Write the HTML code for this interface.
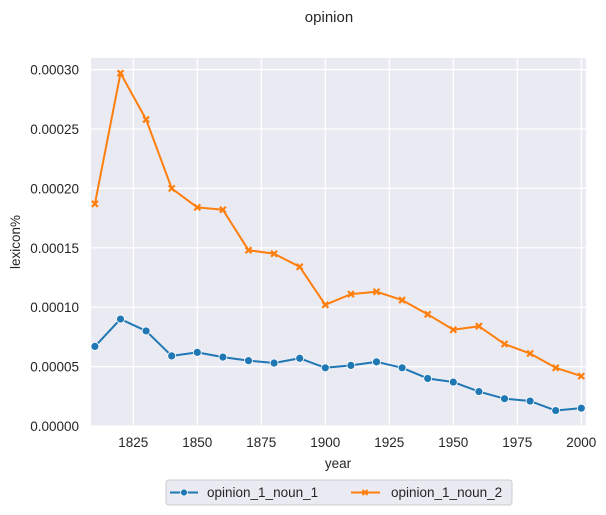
<!DOCTYPE html>
<html><head><meta charset="utf-8"><style>
html,body{margin:0;padding:0;background:#fff;}
svg{display:block;font-family:"Liberation Sans",sans-serif;}
</style></head><body>
<svg id="chart" width="606" height="515" viewBox="0 0 606 515" xmlns="http://www.w3.org/2000/svg">
<text x="329" y="22" text-anchor="middle" font-size="15" fill="#262626">opinion</text>
<rect x="91" y="58" width="495" height="368" fill="#eaeaf2"/>
<g id="grid"></g>
<g id="ticks"></g>
<g id="series"></g>
<text x="338" y="468" text-anchor="middle" font-size="13.5" fill="#262626">year</text>
<text transform="translate(20,242) rotate(-90)" text-anchor="middle" font-size="13.5" fill="#262626">lexicon%</text>
<g>
<rect x="166" y="480" width="346" height="25" rx="3" fill="#eaeaf2" stroke="#cccccc"/>
<g>
<line x1="170" y1="492.5" x2="198" y2="492.5" stroke="#1f77b4" stroke-width="2"/>
<circle cx="184" cy="492.5" r="3.5" fill="#1f77b4" stroke="#fff" stroke-width="0.8"/>
<text x="207" y="497" font-size="13.5" fill="#262626">opinion_1_noun_1</text>
</g>
<g>
<line x1="351" y1="492.5" x2="380" y2="492.5" stroke="#ff7f0e" stroke-width="2"/>
<path d="M362.5,490L367.5,495M362.5,495L367.5,490" stroke="#ff7f0e" stroke-width="2"/>
<text x="391" y="497" font-size="13.5" fill="#262626">opinion_1_noun_2</text>
</g>
</g>
</svg>
<script>
const years = [1810,1820,1830,1840,1850,1860,1870,1880,1890,1900,1910,1920,1930,1940,1950,1960,1970,1980,1990,2000];
const noun1 = [0.000067,0.000090,0.000080,0.000059,0.000062,0.000058,0.000055,0.000053,0.000057,0.000049,0.000051,0.000054,0.000049,0.000040,0.000037,0.000029,0.000023,0.000021,0.000013,0.000015];
const noun2 = [0.000187,0.000297,0.000258,0.000200,0.000184,0.000182,0.000148,0.000145,0.000134,0.000102,0.000111,0.000113,0.000106,0.000094,0.000081,0.000084,0.000069,0.000061,0.000049,0.000042];
const xTicks = [1825,1850,1875,1900,1925,1950,1975,2000];
const yTicks = [0,0.00005,0.0001,0.00015,0.0002,0.00025,0.0003];
const yTickLabels = ["0.00000","0.00005","0.00010","0.00015","0.00020","0.00025","0.00030"];

const NS="http://www.w3.org/2000/svg";
function X(v){return 581.3+(v-2000)*2.56;}
function Y(v){return 426-v*1188000;}
function mk(t,a,p){const e=document.createElementNS(NS,t);for(const k in a)e.setAttribute(k,a[k]);p.appendChild(e);return e;}
const grid=document.getElementById('grid'),ticks=document.getElementById('ticks'),ser=document.getElementById('series');
xTicks.forEach(t=>{
  const l=mk('line',{x1:X(t),x2:X(t),y1:58,y2:426,stroke:'#fff','stroke-width':1.2},grid);
  
  
  const tx=mk('text',{x:X(t),y:447,'text-anchor':'middle','font-size':13.5,fill:'#262626'},ticks);
  tx.textContent=t;
  
  
});
yTicks.forEach((t,i)=>{
  const l=mk('line',{x1:91,x2:586,y1:Y(t),y2:Y(t),stroke:'#fff','stroke-width':1.2},grid);
  
  
  const tx=mk('text',{x:79,y:Y(t)+5,'text-anchor':'end','font-size':13.5,fill:'#262626'},ticks);
  tx.textContent=yTickLabels[i];
  
  
});
function draw(vals,color,marker,name){
  const pl=mk('polyline',{points:vals.map((v,i)=>X(years[i])+','+Y(v)).join(' '),fill:'none',stroke:color,'stroke-width':2,'stroke-linejoin':'round'},ser);
  
  
  vals.forEach((v,i)=>{
    const x=X(years[i]),y=Y(v);
    let m;
    if(marker==='o'){
      m=mk('circle',{cx:x,cy:y,r:4,fill:color,stroke:'#fff','stroke-width':0.8},ser);
    }else{
      const s=3;
      m=mk('path',{d:`M${x-s},${y-s}L${x+s},${y+s}M${x-s},${y+s}L${x+s},${y-s}`,stroke:color,'stroke-width':2.2,fill:'none'},ser);
    }
    
    
  });
}
draw(noun1,'#1f77b4','o','noun-1');
draw(noun2,'#ff7f0e','x','noun-2');
</script>
</body></html>
